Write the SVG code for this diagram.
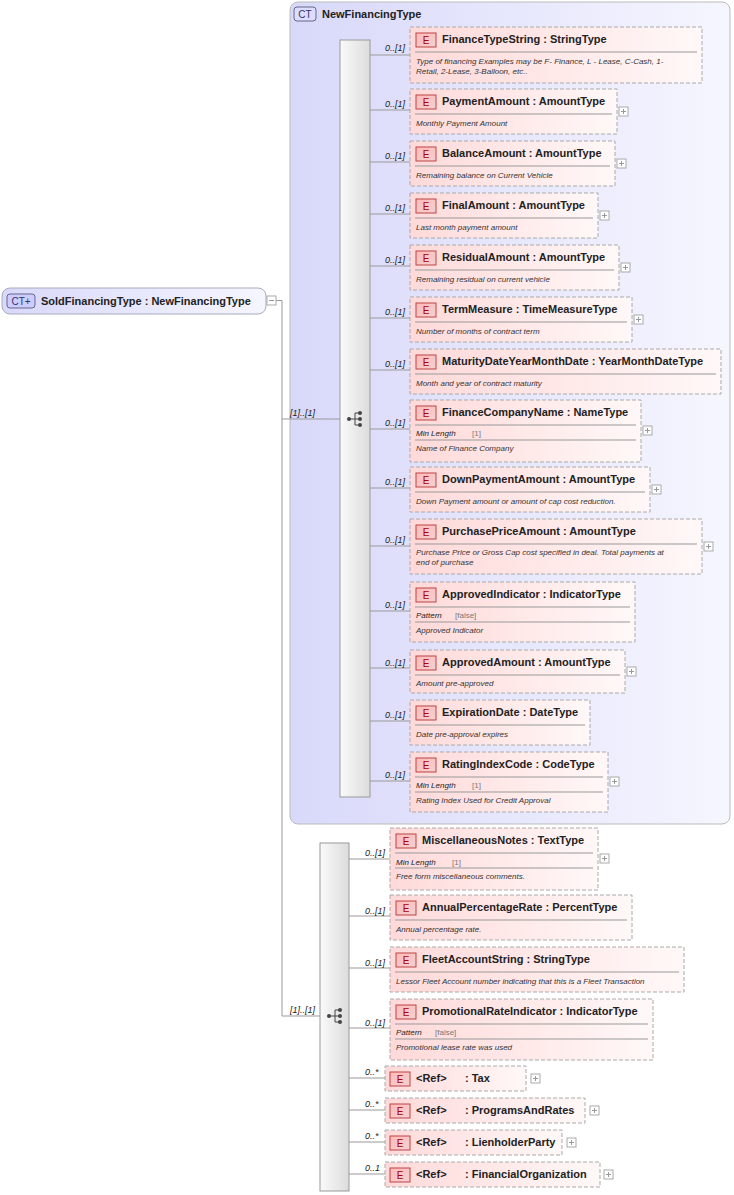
<svg xmlns="http://www.w3.org/2000/svg" width="734" height="1195" viewBox="0 0 734 1195">
<defs>
<linearGradient id="el" x1="0" y1="0" x2="1" y2="0"><stop offset="0" stop-color="#ffd9d9"/><stop offset="1" stop-color="#fff8f8"/></linearGradient>
<linearGradient id="badge" x1="0" y1="0" x2="1" y2="1"><stop offset="0" stop-color="#fbb"/><stop offset="1" stop-color="#f3d0d0"/></linearGradient>
<linearGradient id="ct" x1="0" y1="0" x2="1" y2="0"><stop offset="0" stop-color="#d8d8fa"/><stop offset="1" stop-color="#f6f6ff"/></linearGradient>
<linearGradient id="bar" x1="0" y1="0" x2="1" y2="0"><stop offset="0" stop-color="#fafafa"/><stop offset="1" stop-color="#dcdcdc"/></linearGradient>
<g id="plus"><rect width="9" height="9" fill="#fff" stroke="#aaa"/><path d="M2 4.5h5M4.5 2v5" stroke="#999"/></g>
<g id="seq"><circle cx="0" cy="0" r="2" fill="#444"/><path d="M0 0h6M6 -6v12M6 -6h4M6 0h4M6 6h4" stroke="#444" fill="none"/><circle cx="11" cy="-6" r="2" fill="#444"/><circle cx="11" cy="0" r="2" fill="#444"/><circle cx="11" cy="6" r="2" fill="#444"/></g>
<g id="E"><rect x="0" y="0" width="20" height="14" fill="url(#badge)" stroke="#b44"/><text x="10" y="11" text-anchor="middle" class="b">E</text></g>
</defs>
<style>
text{font-family:"Liberation Sans",Arial,sans-serif;fill:#222}
.t{font-size:11px;font-weight:bold}
.b{font-size:10px;fill:#a00}
.d{font-size:8px;font-style:italic;fill:#333}
.m{font-size:9px;font-style:italic}
.f{font-size:8px;font-style:italic}
.k{font-size:8px;fill:#777}
.box{fill:url(#el);stroke:#aaa;stroke-dasharray:4 2}
.sep{stroke:#999}
.c{stroke:#999;fill:none}
</style>

<g id="newFinancingType">
<rect x="290" y="2" width="440" height="822" rx="8" fill="url(#ct)" stroke="#bbb"/>
<rect x="294" y="7" width="22" height="14" rx="3" fill="#ddf" stroke="#668"/>
<text x="305" y="18" text-anchor="middle" style="font-size:10px;fill:#336">CT</text>
<text x="322" y="18" class="t">NewFinancingType</text>
</g>

<g id="root">
<rect x="2" y="288" width="264" height="26" rx="8" fill="url(#ct)" stroke="#aab"/>
<rect x="7" y="294" width="28" height="14" rx="3" fill="#ccf" stroke="#668"/>
<text x="21" y="305" text-anchor="middle" style="font-size:10px;fill:#336">CT+</text>
<text x="41" y="305" class="t">SoldFinancingType : NewFinancingType</text>
<rect x="267" y="296" width="9" height="9" fill="#fff" stroke="#aaa"/><path d="M269 300.5h5" stroke="#999"/>
</g>

<g id="seq1"><rect x="340" y="40" width="30" height="757" fill="url(#bar)" stroke="#999"/><use href="#seq" x="349" y="419"/></g>
<g id="seq2"><rect x="320" y="843" width="29" height="348" fill="url(#bar)" stroke="#999"/><use href="#seq" x="329" y="1016"/></g>

<g id="connectors">
<path class="c" d="M276 300.5h6V1016h38M282 419h58"/>
<text x="290" y="416" class="m">[1]..[1]</text>
<text x="290" y="1013" class="m">[1]..[1]</text>
<path class="c" d="M370 55h40M370 110h40M370 162h40M370 214h40M370 266h40M370 318h40M370 370h40M370 429h40M370 488h40M370 546h40M370 611h40M370 668h40M370 721h40M370 781h40"/>
<text x="385" y="51" class="m">0..[1]</text><text x="385" y="107" class="m">0..[1]</text><text x="385" y="159" class="m">0..[1]</text><text x="385" y="211" class="m">0..[1]</text><text x="385" y="263" class="m">0..[1]</text><text x="385" y="315" class="m">0..[1]</text><text x="385" y="367" class="m">0..[1]</text><text x="385" y="426" class="m">0..[1]</text><text x="385" y="485" class="m">0..[1]</text><text x="385" y="543" class="m">0..[1]</text><text x="385" y="608" class="m">0..[1]</text><text x="385" y="666" class="m">0..[1]</text><text x="385" y="718" class="m">0..[1]</text><text x="385" y="778" class="m">0..[1]</text>
<path class="c" d="M349 859h41M349 916h41M349 968h41M349 1028h41M349 1078h36M349 1110h36M349 1142h36M349 1174h36"/>
<text x="365" y="856" class="m">0..[1]</text><text x="365" y="914" class="m">0..[1]</text><text x="365" y="966" class="m">0..[1]</text><text x="365" y="1026" class="m">0..[1]</text>
<text x="365" y="1075" class="m">0..*</text><text x="365" y="1107" class="m">0..*</text><text x="365" y="1139" class="m">0..*</text><text x="365" y="1171" class="m">0..1</text>
</g>

<g id="FinanceTypeString" transform="translate(410,27)"><rect class="box" width="292" height="56"/><use href="#E" x="6" y="6"/><text x="32" y="16" class="t">FinanceTypeString : StringType</text><path class="sep" d="M5 25h282"/><text x="6" y="37" class="d">Type of financing Examples may be F- Finance, L - Lease, C-Cash, 1-</text><text x="6" y="47" class="d">Retail, 2-Lease, 3-Balloon, etc..</text></g>
<g id="PaymentAmount" transform="translate(410,89)"><rect class="box" width="207" height="45"/><use href="#E" x="6" y="6"/><text x="32" y="16" class="t">PaymentAmount : AmountType</text><path class="sep" d="M5 25h197"/><text x="6" y="37" class="d">Monthly Payment Amount</text><use href="#plus" x="209" y="18"/></g>
<g id="BalanceAmount" transform="translate(410,141)"><rect class="box" width="205" height="45"/><use href="#E" x="6" y="6"/><text x="32" y="16" class="t">BalanceAmount : AmountType</text><path class="sep" d="M5 25h195"/><text x="6" y="37" class="d">Remaining balance on Current Vehicle</text><use href="#plus" x="207" y="18"/></g>
<g id="FinalAmount" transform="translate(410,193)"><rect class="box" width="188" height="45"/><use href="#E" x="6" y="6"/><text x="32" y="16" class="t">FinalAmount : AmountType</text><path class="sep" d="M5 25h178"/><text x="6" y="37" class="d">Last month payment amount</text><use href="#plus" x="190" y="18"/></g>
<g id="ResidualAmount" transform="translate(410,245)"><rect class="box" width="209" height="45"/><use href="#E" x="6" y="6"/><text x="32" y="16" class="t">ResidualAmount : AmountType</text><path class="sep" d="M5 25h199"/><text x="6" y="37" class="d">Remaining residual on current vehicle</text><use href="#plus" x="211" y="18"/></g>
<g id="TermMeasure" transform="translate(410,297)"><rect class="box" width="222" height="45"/><use href="#E" x="6" y="6"/><text x="32" y="16" class="t">TermMeasure : TimeMeasureType</text><path class="sep" d="M5 25h212"/><text x="6" y="37" class="d">Number of months of contract term</text><use href="#plus" x="224" y="18"/></g>
<g id="MaturityDateYearMonthDate" transform="translate(410,349)"><rect class="box" width="311" height="45"/><use href="#E" x="6" y="6"/><text x="32" y="16" class="t">MaturityDateYearMonthDate : YearMonthDateType</text><path class="sep" d="M5 25h301"/><text x="6" y="37" class="d">Month and year of contract maturity</text></g>
<g id="FinanceCompanyName" transform="translate(410,400)"><rect class="box" width="231" height="62"/><use href="#E" x="6" y="6"/><text x="32" y="16" class="t">FinanceCompanyName : NameType</text><path class="sep" d="M5 25h221M5 40h221"/><text x="6" y="36" class="f">Min Length</text><text x="62" y="36" class="k">[1]</text><text x="6" y="51" class="d">Name of Finance Company</text><use href="#plus" x="233" y="26"/></g>
<g id="DownPaymentAmount" transform="translate(410,467)"><rect class="box" width="240" height="45"/><use href="#E" x="6" y="6"/><text x="32" y="16" class="t">DownPaymentAmount : AmountType</text><path class="sep" d="M5 25h230"/><text x="6" y="37" class="d">Down Payment amount or amount of cap cost reduction.</text><use href="#plus" x="242" y="18"/></g>
<g id="PurchasePriceAmount" transform="translate(410,519)"><rect class="box" width="292" height="55"/><use href="#E" x="6" y="6"/><text x="32" y="16" class="t">PurchasePriceAmount : AmountType</text><path class="sep" d="M5 25h282"/><text x="6" y="36" class="d">Purchase Price or Gross Cap cost specified in deal. Total payments at</text><text x="6" y="46" class="d">end of purchase</text><use href="#plus" x="294" y="23"/></g>
<g id="ApprovedIndicator" transform="translate(410,582)"><rect class="box" width="225" height="60"/><use href="#E" x="6" y="6"/><text x="32" y="16" class="t">ApprovedIndicator : IndicatorType</text><path class="sep" d="M5 25h215M5 40h215"/><text x="6" y="36" class="f">Pattern</text><text x="45" y="36" class="k">[false]</text><text x="6" y="51" class="d">Approved Indicator</text></g>
<g id="ApprovedAmount" transform="translate(410,650)"><rect class="box" width="215" height="43"/><use href="#E" x="6" y="6"/><text x="32" y="16" class="t">ApprovedAmount : AmountType</text><path class="sep" d="M5 25h205"/><text x="6" y="36" class="d">Amount pre-approved</text><use href="#plus" x="217" y="17"/></g>
<g id="ExpirationDate" transform="translate(410,700)"><rect class="box" width="180" height="45"/><use href="#E" x="6" y="6"/><text x="32" y="16" class="t">ExpirationDate : DateType</text><path class="sep" d="M5 25h170"/><text x="6" y="37" class="d">Date pre-approval expires</text></g>
<g id="RatingIndexCode" transform="translate(410,752)"><rect class="box" width="198" height="60"/><use href="#E" x="6" y="6"/><text x="32" y="16" class="t">RatingIndexCode : CodeType</text><path class="sep" d="M5 25h188M5 40h188"/><text x="6" y="36" class="f">Min Length</text><text x="62" y="36" class="k">[1]</text><text x="6" y="51" class="d">Rating Index Used for Credit Approval</text><use href="#plus" x="200" y="25"/></g>

<g id="MiscellaneousNotes" transform="translate(390,828)"><rect class="box" width="208" height="62"/><use href="#E" x="6" y="6"/><text x="32" y="16" class="t">MiscellaneousNotes : TextType</text><path class="sep" d="M5 25h198M5 40h198"/><text x="6" y="37" class="f">Min Length</text><text x="62" y="37" class="k">[1]</text><text x="6" y="51" class="d">Free form miscellaneous comments.</text><use href="#plus" x="210" y="26"/></g>
<g id="AnnualPercentageRate" transform="translate(390,895)"><rect class="box" width="242" height="45"/><use href="#E" x="6" y="6"/><text x="32" y="16" class="t">AnnualPercentageRate : PercentType</text><path class="sep" d="M5 25h232"/><text x="6" y="37" class="d">Annual percentage rate.</text></g>
<g id="FleetAccountString" transform="translate(390,947)"><rect class="box" width="294" height="45"/><use href="#E" x="6" y="6"/><text x="32" y="16" class="t">FleetAccountString : StringType</text><path class="sep" d="M5 25h284"/><text x="6" y="37" class="d">Lessor Fleet Account number indicating that this is a Fleet Transaction</text></g>
<g id="PromotionalRateIndicator" transform="translate(390,999)"><rect class="box" width="263" height="61"/><use href="#E" x="6" y="6"/><text x="32" y="16" class="t">PromotionalRateIndicator : IndicatorType</text><path class="sep" d="M5 25h253M5 40h253"/><text x="6" y="36" class="f">Pattern</text><text x="45" y="36" class="k">[false]</text><text x="6" y="51" class="d">Promotional lease rate was used</text></g>
<g id="Tax" transform="translate(385,1066)"><rect class="box" width="141" height="25"/><use href="#E" x="5" y="6"/><text x="31" y="16" class="t">&lt;Ref&gt;</text><text x="80" y="16" class="t">: Tax</text><use href="#plus" x="146" y="8"/></g>
<g id="ProgramsAndRates" transform="translate(385,1098)"><rect class="box" width="200" height="25"/><use href="#E" x="5" y="6"/><text x="31" y="16" class="t">&lt;Ref&gt;</text><text x="80" y="16" class="t">: ProgramsAndRates</text><use href="#plus" x="205" y="8"/></g>
<g id="LienholderParty" transform="translate(385,1130)"><rect class="box" width="177" height="25"/><use href="#E" x="5" y="6"/><text x="31" y="16" class="t">&lt;Ref&gt;</text><text x="80" y="16" class="t">: LienholderParty</text><use href="#plus" x="182" y="8"/></g>
<g id="FinancialOrganization" transform="translate(385,1162)"><rect class="box" width="215" height="25"/><use href="#E" x="5" y="6"/><text x="31" y="16" class="t">&lt;Ref&gt;</text><text x="80" y="16" class="t">: FinancialOrganization</text><use href="#plus" x="219" y="8"/></g>
</svg>
